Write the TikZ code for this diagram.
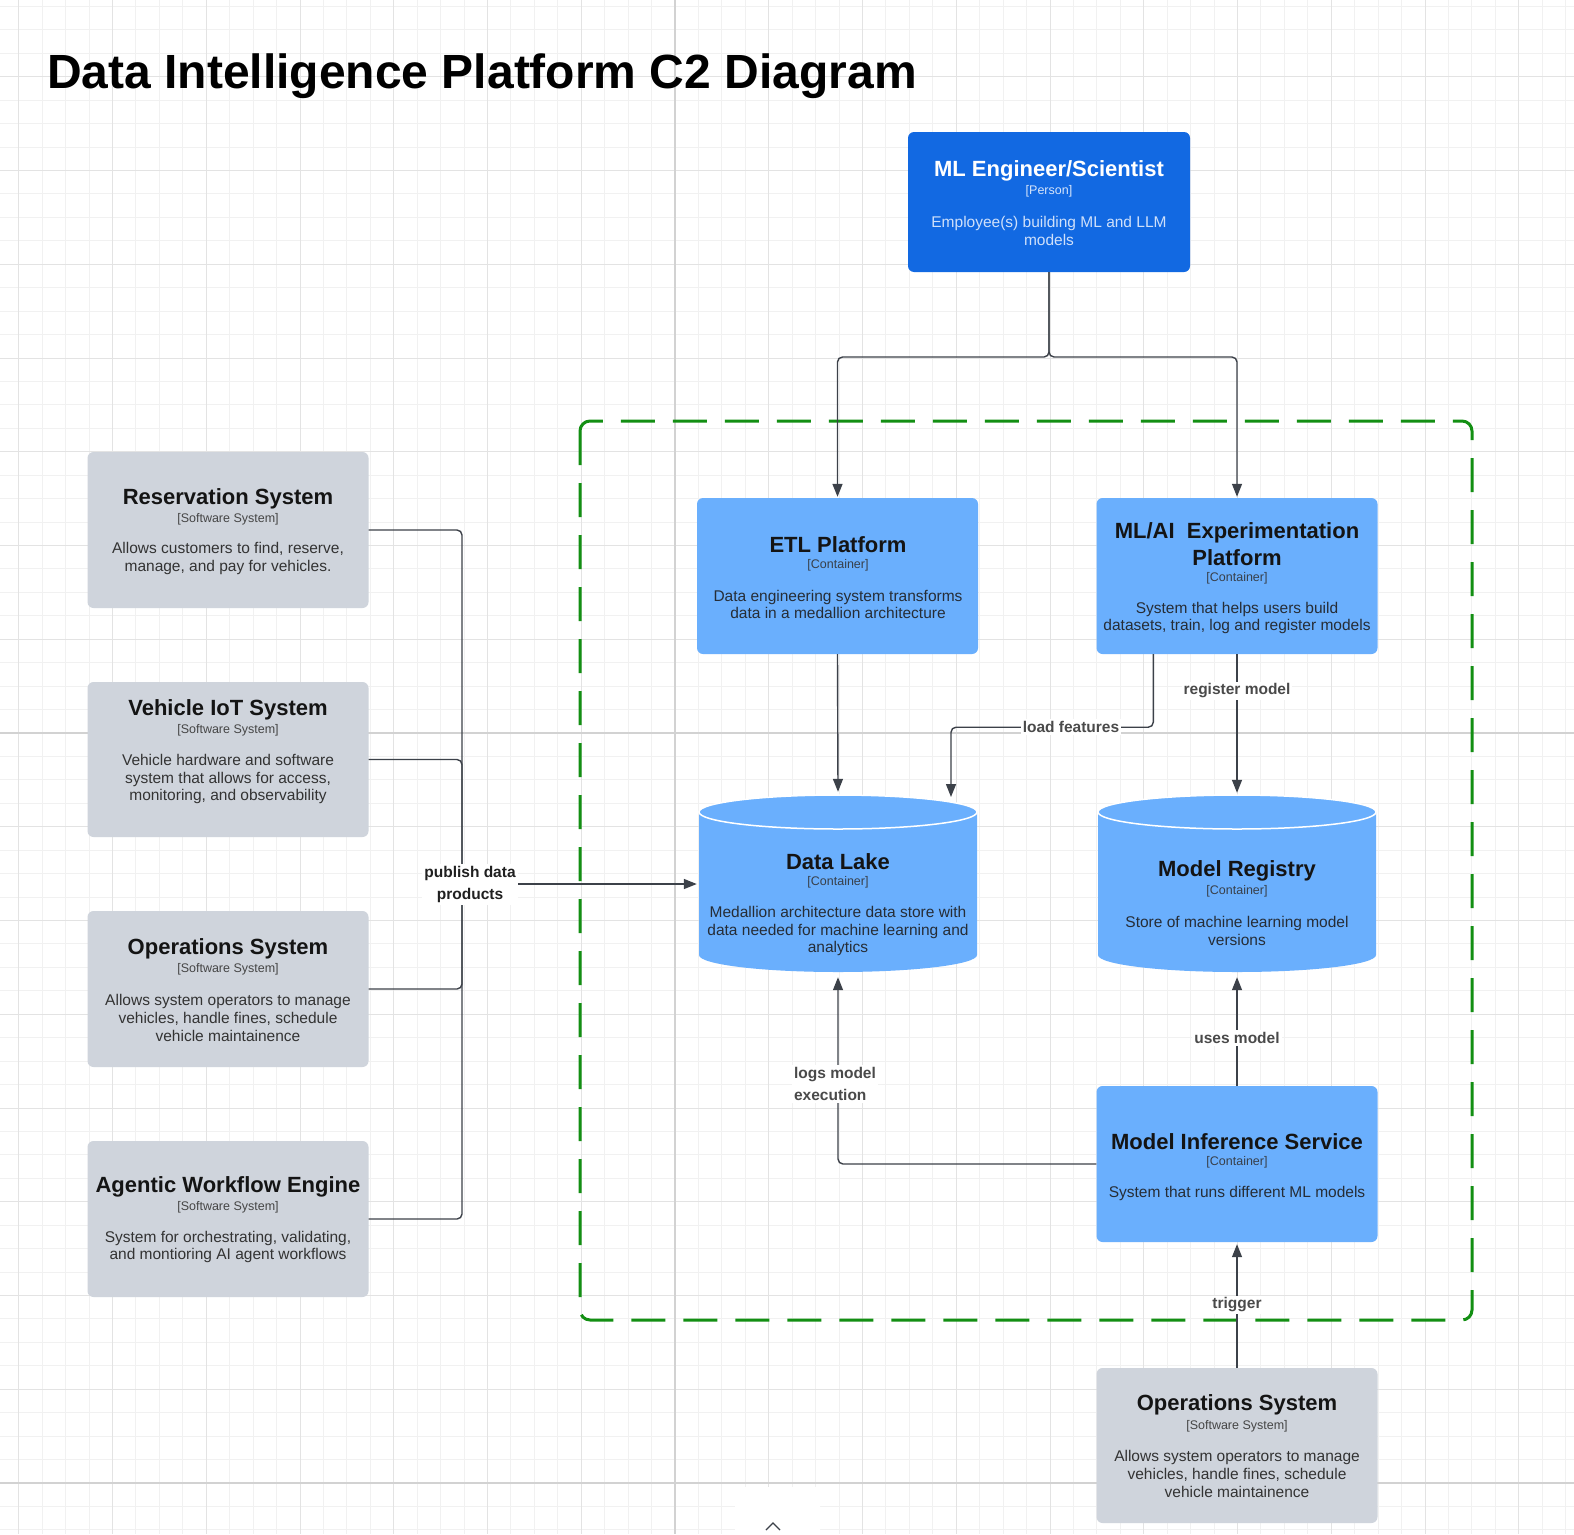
\documentclass[tikz,border=0pt]{standalone}
\usepackage{fontspec}
\setmainfont{Liberation Sans}
\usetikzlibrary{arrows.meta,calc}
\definecolor{personblue}{HTML}{1269E2}
\definecolor{contblue}{HTML}{6AAFFD}
\definecolor{sysgray}{HTML}{CFD4DC}
\definecolor{bgreen}{HTML}{138F13}
\definecolor{lineclr}{HTML}{3C4149}
\definecolor{gridminor}{HTML}{F1F1F1}
\definecolor{gridmajor}{HTML}{E3E3E3}
\definecolor{gridstrong}{HTML}{D2D2D2}
\definecolor{titleclr}{HTML}{141414}
\definecolor{subclr}{HTML}{38404A}
\definecolor{descclr}{HTML}{262D36}
\definecolor{gsubclr}{HTML}{454545}
\definecolor{gdescclr}{HTML}{333333}
\definecolor{lblclr}{HTML}{4A4A4A}
\definecolor{psub}{HTML}{D5E4FA}
\definecolor{pdesc}{HTML}{CFE0FA}
\tikzset{
  box/.style={rounded corners=6pt, minimum width=281pt, minimum height=156pt, inner sep=0pt},
  sysbox/.style={box, fill=sysgray},
  contbox/.style={box, fill=contblue},
  ttl/.style={font=\fontsize{22}{27}\selectfont\bfseries, text=titleclr, inner sep=0pt, align=center},
  sub/.style={font=\fontsize{12.5}{15}\selectfont, text=subclr, inner sep=0pt},
  dsc/.style={font=\fontsize{15.5}{17.6}\selectfont, text=descclr, inner sep=0pt, align=center},
  gsub/.style={sub, text=gsubclr},
  gdsc/.style={dsc, text=gdescclr},
  conn/.style={draw=lineclr, line width=1.4pt, rounded corners=5pt},
  arr/.style={conn, -{Triangle[length=13pt,width=10pt]}},
  lbl/.style={font=\fontsize{15.5}{22.5}\selectfont\bfseries, text=lblclr, fill=white, inner sep=2pt, align=center},
}
\begin{document}
\begin{tikzpicture}[x=1pt,y=-1pt]
\useasboundingbox (0,0) rectangle (1574,1534);
\fill[white] (0,0) rectangle (1574,1534);
% grid
\begin{scope}
\clip (0,0) rectangle (1574,1534);
\foreach \i in {-29,...,39} {
  \pgfmathsetmacro\xx{675+23.4375*\i}
  \draw[gridminor, line width=1pt] (\xx,0) -- (\xx,1534);
}
\foreach \j in {-32,...,35} {
  \pgfmathsetmacro\yy{733+23.4375*\j}
  \draw[gridminor, line width=1pt] (0,\yy) -- (1574,\yy);
}
\foreach \i in {-8,...,10} {
  \pgfmathsetmacro\xx{675+93.75*\i}
  \draw[gridmajor, line width=1pt] (\xx,0) -- (\xx,1534);
}
\foreach \j in {-8,...,9} {
  \pgfmathsetmacro\yy{733+93.75*\j}
  \draw[gridmajor, line width=1pt] (0,\yy) -- (1574,\yy);
}
\draw[gridstrong, line width=1.3pt] (675,0) -- (675,1534);
\draw[gridstrong, line width=1.3pt] (0,733) -- (1574,733);
\draw[gridstrong, line width=1.3pt] (0,1483) -- (1574,1483);
\end{scope}

% title
\node[anchor=base west, inner sep=0pt, font=\fontsize{48}{58}\selectfont\bfseries] (title) at (47,88) {Data Intelligence Platform C2 Diagram};

% boundary
\draw[bgreen, line width=3pt, rounded corners=10pt, dash pattern=on 34pt off 18pt] (580,421) rectangle (1472,1320);

% person
\node[box, fill=personblue, minimum width=282pt, minimum height=140pt] (p) at (1049,202) {};
\node[ttl, text=white] (pT) at (1049,171) {ML Engineer/Scientist};
\node[sub, text=psub] (pS) at (1049,191) {[Person]};
\node[dsc, text=pdesc] (pD) at (1049,231) {Employee(s) building ML and LLM\\models};

% ETL
\node[contbox] (etl) at (837.5,576) {};
\node[ttl] (etlT) at (838,545) {ETL Platform};
\node[sub] (etlS) at (838,565) {[Container]};
\node[dsc] (etlD) at (838,604.5) {Data engineering system transforms\\data in a medallion architecture};

% ML/AI
\node[contbox] (mlai) at (1237,576) {};
\node[ttl] (mlaiT) at (1237,544.5) {ML/AI\ \ Experimentation\\Platform};
\node[sub] (mlaiS) at (1237,578) {[Container]};
\node[dsc] (mlaiD) at (1237,618) {System that helps users build\\datasets, train, log and register models};

% Data Lake cylinder
\node[inner sep=0pt, minimum width=278pt, minimum height=177pt] (dl) at (838,883.5) {};
\fill[contblue] (699,812) -- (699,955) arc[start angle=180,end angle=360,x radius=139pt,y radius=17pt] -- (977,812) -- cycle;
\filldraw[fill=contblue, draw=white, line width=1.5pt] (838,812) ellipse [x radius=139pt, y radius=17pt];
\node[ttl] (dlT) at (838,862) {Data Lake};
\node[sub] (dlS) at (838,882) {[Container]};
\node[dsc] (dlD) at (838,931) {Medallion architecture data store with\\data needed for machine learning and\\analytics};

% Model Registry cylinder
\node[inner sep=0pt, minimum width=278pt, minimum height=177pt] (mr) at (1237,883.5) {};
\fill[contblue] (1098,812) -- (1098,955) arc[start angle=180,end angle=360,x radius=139pt,y radius=17pt] -- (1376,812) -- cycle;
\filldraw[fill=contblue, draw=white, line width=1.5pt] (1237,812) ellipse [x radius=139pt, y radius=17pt];
\node[ttl] (mrT) at (1237,871) {Model Registry};
\node[sub] (mrS) at (1237,891) {[Container]};
\node[dsc] (mrD) at (1237,931) {Store of machine learning model\\versions};

% Model Inference
\node[contbox] (mis) at (1237,1164) {};
\node[ttl] (misT) at (1237,1142) {Model Inference Service};
\node[sub] (misS) at (1237,1162) {[Container]};
\node[dsc] (misD) at (1237,1193) {System that runs different ML models};

% Operations (bottom)
\node[sysbox, minimum height=155pt] (ops2) at (1237,1445.5) {};
\node[ttl] (ops2T) at (1237,1405) {Operations System};
\node[gsub] (ops2S) at (1237,1426) {[Software System]};
\node[gdsc] (ops2D) at (1237,1474) {Allows system operators to manage\\vehicles, handle fines, schedule\\vehicle maintainence};

% left systems
\node[sysbox] (res) at (228,530) {};
\node[ttl] (resT) at (228,499) {Reservation System};
\node[gsub] (resS) at (228,519) {[Software System]};
\node[gdsc] (resD) at (228,558.5) {Allows customers to find, reserve,\\manage, and pay for vehicles.};

\node[sysbox, minimum height=155pt] (iot) at (228,759.5) {};
\node[ttl] (iotT) at (228,710) {Vehicle IoT System};
\node[gsub] (iotS) at (228,730) {[Software System]};
\node[gdsc] (iotD) at (228,779) {Vehicle hardware and software\\system that allows for access,\\monitoring, and observability};

\node[sysbox] (ops1) at (228,989) {};
\node[ttl] (ops1T) at (228,949) {Operations System};
\node[gsub] (ops1S) at (228,969) {[Software System]};
\node[gdsc] (ops1D) at (228,1018) {Allows system operators to manage\\vehicles, handle fines, schedule\\vehicle maintainence};

\node[sysbox] (agent) at (228,1219) {};
\node[ttl] (agentT) at (228,1187) {Agentic Workflow Engine};
\node[gsub] (agentS) at (228,1207) {[Software System]};
\node[gdsc] (agentD) at (228,1247) {System for orchestrating, validating,\\and montioring AI agent workflows};

% connectors
\coordinate (split) at (1049,357);
\draw[arr] (p.south) -- (split) -| ($(etl.north)+(0,-1)$);
\draw[arr] (p.south) -- (split) -| ($(mlai.north)+(0,-1)$);

\draw[arr] (etl.south) -- ($(dl.north)+(0,-3)$);

\coordinate (lfS) at ($(mlai.south west)+(57,0)$);
\coordinate (lfE) at (951,797);
\draw[arr] (lfS) -- ++(0,73) -| (lfE);

\draw[arr] (mlai.south) -- ($(mr.north)+(0,-2)$);
\draw[arr] (mis.north) -- ($(mr.south)+(0,5)$);
\draw[arr] (mis.west) -| ($(dl.south)+(0,5)$);
\draw[arr] (ops2.north) -- ($(mis.south)+(0,2)$);

\coordinate (pub) at (462,884);
\draw[conn] (res.east) -| (pub);
\draw[conn] (iot.east) -| (pub);
\draw[conn] (ops1.east) -| (pub);
\draw[conn] (agent.east) -| (pub);
\draw[arr] (pub) -- ($(dl.west)+(-2,0.5)$);

% labels
\node[lbl, text=titleclr!95] (lpub) at (470,884.5) {publish data\\products};
\node[lbl] (llf) at (1071,727) {load features};
\node[lbl] (lrm) at (1237,691) {register model};
\node[lbl] (lum) at (1237,1038) {uses model};
\node[lbl, align=left] (llog) at (835,1084) {logs model\\execution};
\node[lbl] (ltr) at (1237,1305) {trigger};

% bottom toolbar fragment
\fill[white, rounded corners=4pt] (735,1487) rectangle (820,1540);
\draw[lineclr, line width=1.3pt] (766,1530) -- (773,1523) -- (780,1530);
\end{tikzpicture}
\end{document}
